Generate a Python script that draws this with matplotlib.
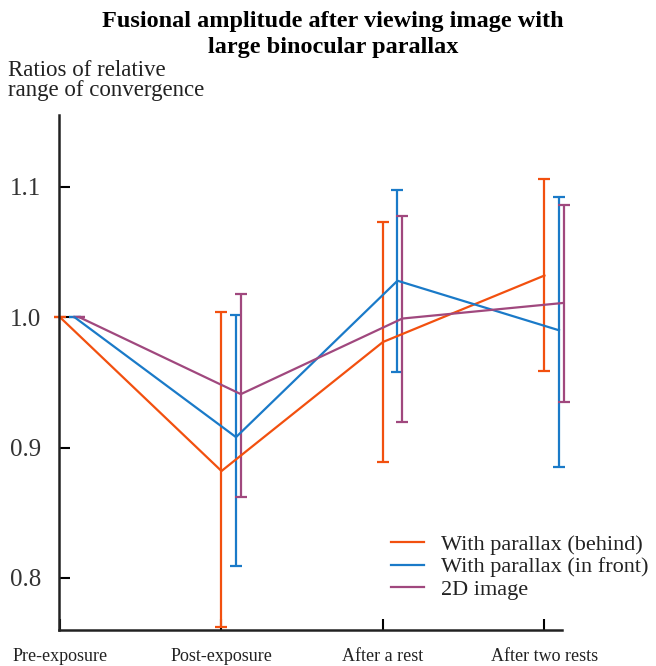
import matplotlib
matplotlib.use("Agg")
import matplotlib.pyplot as plt
import numpy as np

plt.rcParams['font.family'] = ['Liberation Serif', 'DejaVu Serif']

# data
stages = ['Pre-exposure', 'Post-exposure', 'After a rest', 'After two rests']
labels = ['With parallax (behind)', 'With parallax (in front)', '2D image']
colors = ['#F2500F', '#1A7AC8', '#A0487E']

behind_mean = [1.000, 0.882, 0.981, 1.032]
behind_low = [1.000, 0.762, 0.889, 0.959]
behind_high = [1.000, 1.004, 1.073, 1.106]

front_mean = [1.000, 0.908, 1.028, 0.990]
front_low = [1.000, 0.809, 0.958, 0.885]
front_high = [1.000, 1.002, 1.098, 1.092]

flat_mean = [1.000, 0.941, 0.999, 1.011]
flat_low = [1.000, 0.862, 0.920, 0.935]
flat_high = [1.000, 1.018, 1.078, 1.086]

series = [
    (behind_mean, behind_low, behind_high),
    (front_mean, front_low, front_high),
    (flat_mean, flat_low, flat_high),
]
offsets = [0.0, 0.09, 0.12]

fig = plt.figure(figsize=(6.56, 6.66), dpi=100)
ax = fig.add_axes([0.090, 0.054, 0.767, 0.773])

x = np.arange(len(stages))
handles = []
for (m, lo, hi), off, c, lab in zip(series, offsets, colors, labels):
    m = np.array(m)
    yerr = [m - np.array(lo), np.array(hi) - m]
    eb = ax.errorbar(x + off, m, yerr=yerr, color=c, lw=1.6, elinewidth=1.6,
                     capsize=4, capthick=1.6, label=lab)
    # let the last bars run past the end of the x axis, as in the original
    eb[0].set_clip_on(False)
    for part in eb[1] + eb[2]:
        part.set_clip_on(False)
    handles.append(eb[0])

ax.set_xlim(-0.006, 3.11)
ax.set_ylim(0.76, 1.155)
ax.set_yticks([0.8, 0.9, 1.0, 1.1])
ax.set_yticklabels(['0.8', '0.9', '1.0', '1.1'], fontsize=18, color='#333333')
ax.set_xticks(x)
ax.set_xticklabels(stages, fontsize=13, color='#222222')
ax.tick_params(axis='y', direction='in', length=8, width=1.5, pad=13)
ax.tick_params(axis='x', direction='in', length=8, width=1.5, pad=13)

for s in ['top', 'right']:
    ax.spines[s].set_visible(False)
for s in ['left', 'bottom']:
    ax.spines[s].set_linewidth(1.8)
    ax.spines[s].set_color('#222222')

fig.suptitle('Fusional amplitude after viewing image with\nlarge binocular parallax',
             x=0.508, y=0.984, fontsize=17.5, fontweight='bold', linespacing=1.35)
fig.text(0.012, 0.848, 'Ratios of relative\nrange of convergence', fontsize=16.5,
         color='#222222', ha='left', va='bottom', linespacing=0.95)

fig.legend(handles, labels, loc='lower left', bbox_to_anchor=(0.579, 0.082),
           frameon=False, fontsize=16, handlelength=1.5, handletextpad=0.75,
           labelspacing=0.1, borderpad=0, labelcolor='#222222')

fig.savefig('out.png', dpi=100)
